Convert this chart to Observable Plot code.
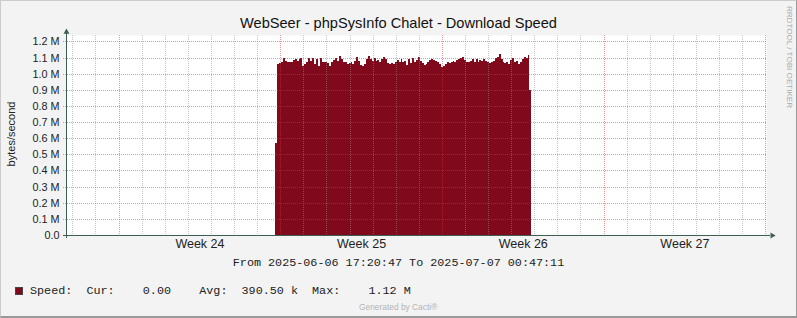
<!DOCTYPE html>
<html>
<head>
<meta charset="utf-8">
<script src="https://cdn.jsdelivr.net/npm/d3@7"></script>
<script src="https://cdn.jsdelivr.net/npm/@observablehq/plot@0.6"></script>
<style>
  html, body { margin: 0; padding: 0; background: #ffffff; }
  #wrap { position: relative; width: 797px; height: 318px; background: #F3F3F3; overflow: hidden; }
  #wrap svg { position: absolute; left: 0; top: 0; }
  .txt { position: absolute; white-space: pre; line-height: 1; }
  .sans { font-family: "Liberation Sans", Arial, sans-serif; }
  .mono { font-family: "Liberation Mono", "DejaVu Sans Mono", monospace; }
  #border { position: absolute; left: 0; top: 0; width: 797px; height: 318px; box-sizing: border-box;
            border-top: 1px solid #CBCBCB; border-left: 1px solid #CBCBCB;
            border-right: 1px solid #999999; border-bottom: 2px solid #999999; pointer-events: none; }
</style>
</head>
<body>
<div id="wrap"></div>
<script>
// Graph period
const periodStart = "2025-06-06T17:20:47Z";
const periodEnd = "2025-07-07T00:47:11Z";

// Download speed samples (millions of bytes/second), one every two hours from speedStart
const speedStart = "2025-06-15T19:00:00Z";
const stepHours = 2;
const speedMillions = [
  0.57, 1.06, 1.065, 1.07, 1.10, 1.08, 1.07, 1.075, 1.07, 1.085,
  1.09, 1.08, 1.09, 1.10, 1.045, 1.06, 1.075, 1.10, 1.08, 1.10,
  1.06, 1.09, 1.05, 1.095, 1.075, 1.07, 1.075, 1.065, 1.045, 1.07,
  1.085, 1.10, 1.08, 1.11, 1.09, 1.07, 1.075, 1.06, 1.065, 1.07,
  1.06, 1.08, 1.105, 1.08, 1.055, 1.05, 1.06, 1.09, 1.11, 1.09,
  1.08, 1.095, 1.08, 1.085, 1.07, 1.09, 1.105, 1.09, 1.065, 1.06,
  1.065, 1.06, 1.075, 1.085, 1.07, 1.09, 1.075, 1.08, 1.055, 1.09,
  1.065, 1.095, 1.07, 1.085, 1.105, 1.08, 1.065, 1.055, 1.06, 1.075,
  1.085, 1.09, 1.085, 1.08, 1.07, 1.06, 1.04, 1.05, 1.06, 1.07,
  1.065, 1.075, 1.08, 1.07, 1.085, 1.09, 1.10, 1.105, 1.085, 1.075,
  1.07, 1.08, 1.09, 1.075, 1.09, 1.07, 1.085, 1.08, 1.09, 1.08,
  1.07, 1.065, 1.07, 1.08, 1.095, 1.105, 1.12, 1.09, 1.07, 1.065,
  1.075, 1.06, 1.085, 1.10, 1.07, 1.08, 1.06, 1.07, 1.09, 1.105,
  1.10, 1.115, 0.90
];

// Axis ticks and labels
const yTickValues = [0, 0.1, 0.2, 0.3, 0.4, 0.5, 0.6, 0.7, 0.8, 0.9, 1.0, 1.1, 1.2];
const yTickLabels = ["0.0", "0.1 M", "0.2 M", "0.3 M", "0.4 M", "0.5 M", "0.6 M", "0.7 M", "0.8 M", "0.9 M", "1.0 M", "1.1 M", "1.2 M"];
const weekLabelTimes = ["2025-06-12T12:00:00Z", "2025-06-19T12:00:00Z", "2025-06-26T12:00:00Z", "2025-07-03T12:00:00Z"];
const weekLabels = ["Week 24", "Week 25", "Week 26", "Week 27"];

// Texts
const titleText = "WebSeer - phpSysInfo Chalet - Download Speed";
const yAxisTitle = "bytes/second";
const rangeText = "From 2025-06-06 17:20:47 To 2025-07-07 00:47:11";
const seriesName = "Speed:";
const statLabels = ["Cur:", "Avg:", "Max:"];
const statNumbers = ["0.00", "390.50", "1.12"];
const statUnits = [" ", "k", "M"];
const sideText = "RRDTOOL / TOBI OETIKER";
const footerText = "Generated by Cacti®";

// Colours
const areaColor = "#800A1C";
const axisColor = "#3D5E53";

const t0 = new Date(periodStart);
const t1 = new Date(periodEnd);
const s0 = new Date(speedStart);
const stepMs = stepHours * 3600 * 1000;

const rows = [{t: t0, v: 0}];
speedMillions.forEach((v, i) => rows.push({t: new Date(+s0 + i * stepMs), v}));
rows.push({t: new Date(+s0 + speedMillions.length * stepMs), v: 0});
rows.push({t: t1, v: 0});

const days = d3.utcDay.range(d3.utcDay.ceil(t0), t1, 1).concat(d3.utcDay.ceil(t1) > t1 ? [] : [t1]);
const allDays = d3.utcDay.range(d3.utcDay.ceil(t0), new Date(+t1 + 1));
const mondays = allDays.filter(d => d.getUTCDay() === 1);
const otherDays = allDays.filter(d => d.getUTCDay() !== 1);
const weekTimes = weekLabelTimes.map(s => new Date(s));

const grid = {strokeWidth: 1, strokeDasharray: "1,1", shapeRendering: "crispEdges"};

const chart = Plot.plot({
  width: 797,
  height: 318,
  marginLeft: 66,
  marginRight: 31,
  marginTop: 35,
  marginBottom: 83,
  style: {background: "transparent", fontFamily: "'Liberation Sans', Arial, sans-serif", color: "#222"},
  x: {type: "utc", domain: [t0, t1]},
  y: {domain: [0, 1.24]},
  marks: [
    Plot.frame({fill: "#FFFFFF", stroke: null}),
    Plot.areaY(rows, {x: "t", y: "v", curve: "step-after", fill: areaColor, shapeRendering: "crispEdges"}),
    Plot.ruleX(otherDays, {stroke: "#8F8F8F", strokeOpacity: 0.5, insetBottom: -2, ...grid}),
    Plot.ruleX(mondays, {stroke: "#DE3030", strokeOpacity: 0.5, insetBottom: -2, ...grid}),
    Plot.ruleY(yTickValues.filter(v => v > 0), {stroke: "#DE3030", strokeOpacity: 0.5, insetLeft: -3, ...grid}),
    Plot.ruleY([0], {stroke: axisColor, insetLeft: -3, insetRight: -4, shapeRendering: "crispEdges"}),
    Plot.ruleX([t0], {stroke: axisColor, insetTop: -3, insetBottom: -3, shapeRendering: "crispEdges"}),
    Plot.dot([0], {frameAnchor: "bottom-right", symbol: "triangle", rotate: 90, r: 2.2, dx: 5.7, fill: axisColor, stroke: null}),
    Plot.dot([0], {frameAnchor: "top-left", symbol: "triangle", r: 2.2, dy: -3.5, fill: axisColor, stroke: null}),
    Plot.axisX({ticks: weekTimes, tickFormat: d => weekLabels[weekTimes.findIndex(w => +w === +d)],
                tickSize: 0, tickPadding: 4, fontSize: 12.5, label: null, fill: "#222"}),
    Plot.axisY({ticks: yTickValues, tickFormat: d => yTickLabels[yTickValues.indexOf(d)],
                tickSize: 0, tickPadding: 7, fontSize: 10.8, label: null, fill: "#222"})
  ]
});

const wrap = document.getElementById("wrap");
wrap.appendChild(chart);

function addText(text, cls, css) {
  const el = document.createElement("div");
  el.className = "txt " + cls;
  el.textContent = text;
  Object.assign(el.style, css);
  wrap.appendChild(el);
  return el;
}

addText(titleText, "sans", {left: "0px", top: "15.6px", width: "797px", textAlign: "center", fontSize: "14.6px", color: "#111"});
addText(yAxisTitle, "sans", {left: "11px", top: "134px", fontSize: "11px", color: "#222",
  transform: "translate(-50%, -50%) rotate(-90deg)"});
addText(rangeText, "mono", {left: "0px", top: "257.6px", width: "797px", textAlign: "center", fontSize: "11.75px", color: "#222"});

const swatch = document.createElement("div");
Object.assign(swatch.style, {position: "absolute", left: "15px", top: "287px", width: "8px", height: "8px",
  boxSizing: "border-box", background: areaColor, border: "1px solid #444"});
wrap.appendChild(swatch);

const stats = statLabels.map((lab, i) => lab + statNumbers[i].padStart(8) + " " + statUnits[i]).join("  ");
addText(seriesName + "  " + stats, "mono", {left: "30px", top: "285.5px", fontSize: "11.75px", color: "#222"});

addText(sideText, "sans", {left: "788.5px", top: "56.5px", fontSize: "8.1px", color: "#AAAAAA",
  transform: "translate(-50%, -50%) rotate(90deg)"});
addText(footerText, "sans", {left: "359px", top: "303px", fontSize: "8.4px", color: "#B4B4B4"});

const border = document.createElement("div");
border.id = "border";
wrap.appendChild(border);
</script>
</body>
</html>
